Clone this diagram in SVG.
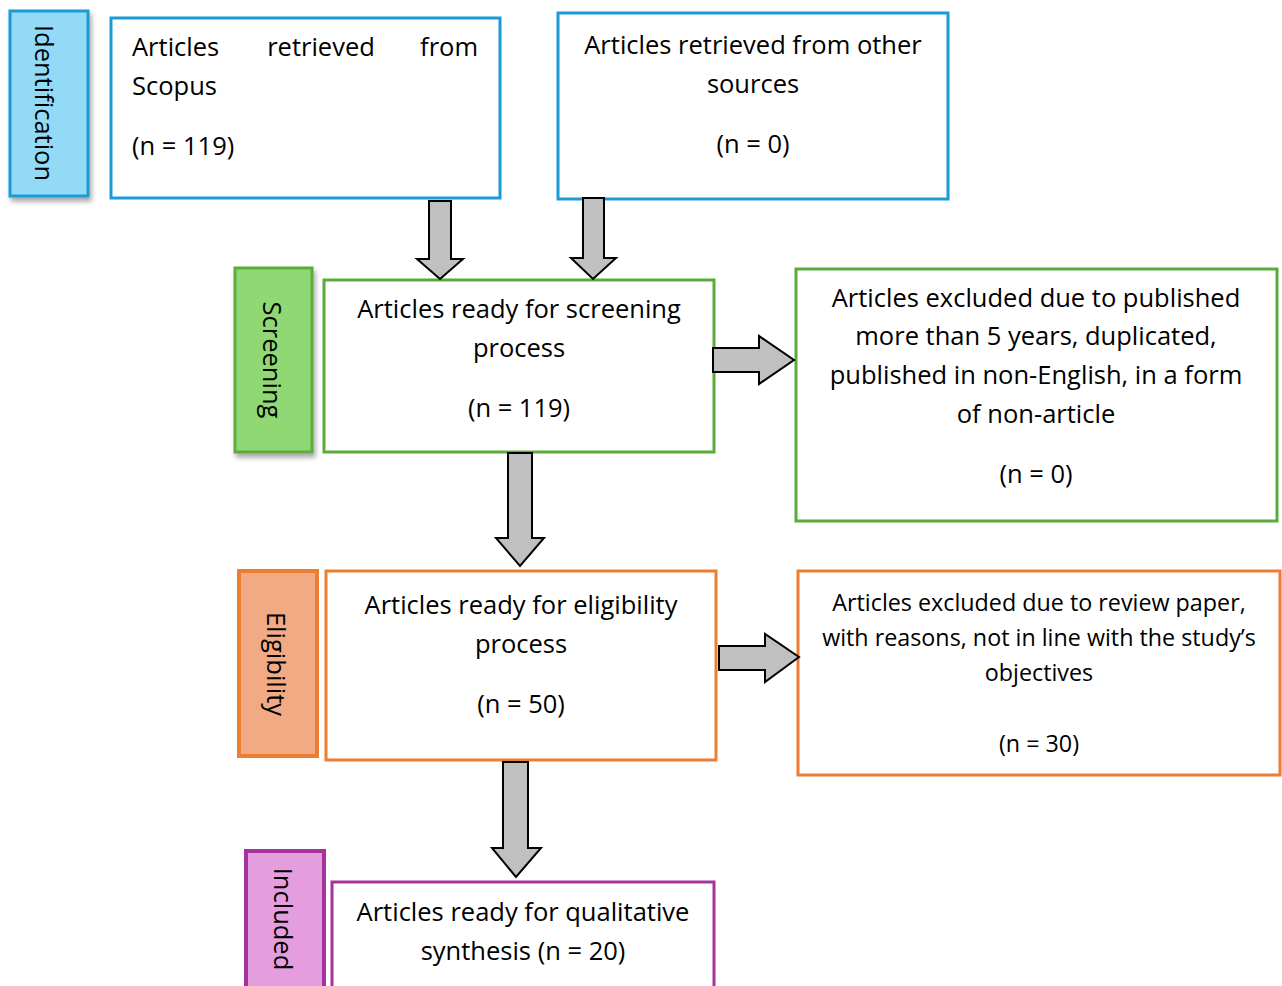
<svg xmlns="http://www.w3.org/2000/svg" width="1282" height="986" viewBox="0 0 1282 986">
<defs>
<filter id="sh" x="-20%" y="-10%" width="150%" height="130%">
<feDropShadow dx="2" dy="4" stdDeviation="2.5" flood-color="#000" flood-opacity="0.35"/>
</filter>
</defs>
<style>
text{font-family:"Open Sans","Liberation Sans",sans-serif;fill:#000;}
.t{font-size:25.5px;text-anchor:middle;}
.s{font-size:23.3px;text-anchor:middle;}
.lab{font-size:25.5px;text-anchor:middle;dominant-baseline:central;}
.box{fill:#fff;stroke-width:3;}
.blue{stroke:#1c9ad6;}
.green{stroke:#5aac3a;}
.orange{stroke:#ed7d31;}
.purple{stroke:#a5339d;}
.arrow{fill:#c0c0c0;stroke:#000;stroke-width:2;stroke-linejoin:miter;}
</style>
<rect width="1282" height="986" fill="#fff"/>

<g id="label-identification">
<rect x="10" y="11" width="78" height="185" fill="#92daf5" stroke="#1c9ad6" stroke-width="3" filter="url(#sh)"/>
<text class="lab" transform="translate(45,103) rotate(90)">Identification</text>
</g>
<g id="label-screening">
<rect x="235" y="268" width="77" height="184" fill="#8fd873" stroke="#5aac3a" stroke-width="3" filter="url(#sh)"/>
<text class="lab" transform="translate(273,360) rotate(90)">Screening</text>
</g>
<g id="label-eligibility">
<rect x="239" y="571" width="78" height="185" fill="#f2aa84" stroke="#ed7d31" stroke-width="4"/>
<text class="lab" transform="translate(277,664) rotate(90)">Eligibility</text>
</g>
<g id="label-included">
<rect x="246" y="851" width="78" height="150" fill="#e49edd" stroke="#a5339d" stroke-width="4"/>
<text class="lab" transform="translate(284,919) rotate(90)">Included</text>
</g>

<g id="box-scopus">
<rect class="box blue" x="111" y="18" width="389" height="180"/>
<text class="t" x="132" y="56" style="text-anchor:start">Articles</text>
<text class="t" x="321" y="56">retrieved</text>
<text class="t" x="478" y="56" style="text-anchor:end">from</text>
<text class="t" x="132" y="95" style="text-anchor:start">Scopus</text>
<text class="t" x="132" y="155" style="text-anchor:start">(n = 119)</text>
</g>
<g id="box-other">
<rect class="box blue" x="558" y="13" width="390" height="186"/>
<text class="t" x="753" y="54">Articles retrieved from other</text>
<text class="t" x="753" y="93">sources</text>
<text class="t" x="753" y="153">(n = 0)</text>
</g>
<g id="box-screening">
<rect class="box green" x="324" y="280" width="390" height="172"/>
<text class="t" x="519" y="318">Articles ready for screening</text>
<text class="t" x="519" y="357">process</text>
<text class="t" x="519" y="417">(n = 119)</text>
</g>
<g id="box-excluded1">
<rect class="box green" x="796" y="269" width="481" height="252"/>
<text class="t" x="1036" y="307">Articles excluded due to published</text>
<text class="t" x="1036" y="345">more than 5 years, duplicated,</text>
<text class="t" x="1036" y="384">published in non-English, in a form</text>
<text class="t" x="1036" y="423">of non-article</text>
<text class="t" x="1036" y="483">(n = 0)</text>
</g>
<g id="box-eligibility">
<rect class="box orange" x="326" y="571" width="390" height="189"/>
<text class="t" x="521" y="614">Articles ready for eligibility</text>
<text class="t" x="521" y="653">process</text>
<text class="t" x="521" y="713">(n = 50)</text>
</g>
<g id="box-excluded2">
<rect class="box orange" x="798" y="571" width="482" height="204"/>
<text class="s" x="1039" y="611">Articles excluded due to review paper,</text>
<text class="s" x="1039" y="646">with reasons, not in line with the study’s</text>
<text class="s" x="1039" y="681">objectives</text>
<text class="s" x="1039" y="752">(n = 30)</text>
</g>
<g id="box-included">
<rect class="box purple" x="332" y="882" width="382" height="120"/>
<text class="t" x="523" y="921">Articles ready for qualitative</text>
<text class="t" x="523" y="960">synthesis (n = 20)</text>
</g>

<g id="connectors">
<polygon class="arrow" points="429,201 451,201 451,259 463,259 440,279 417,259 429,259"/>
<polygon class="arrow" points="583,198 604,198 604,258 616,258 593,279 571,258 583,258"/>
<polygon class="arrow" points="713,348 759,348 759,336 794,360 759,384 759,372 713,372"/>
<polygon class="arrow" points="508,453 532,453 532,538 544,538 520,566 496,538 508,538"/>
<polygon class="arrow" points="719,646 765,646 765,634 799,657 765,682 765,670 719,670"/>
<polygon class="arrow" points="503,762 528,762 528,848 541,848 516,877 492,848 503,848"/>
</g>
</svg>
